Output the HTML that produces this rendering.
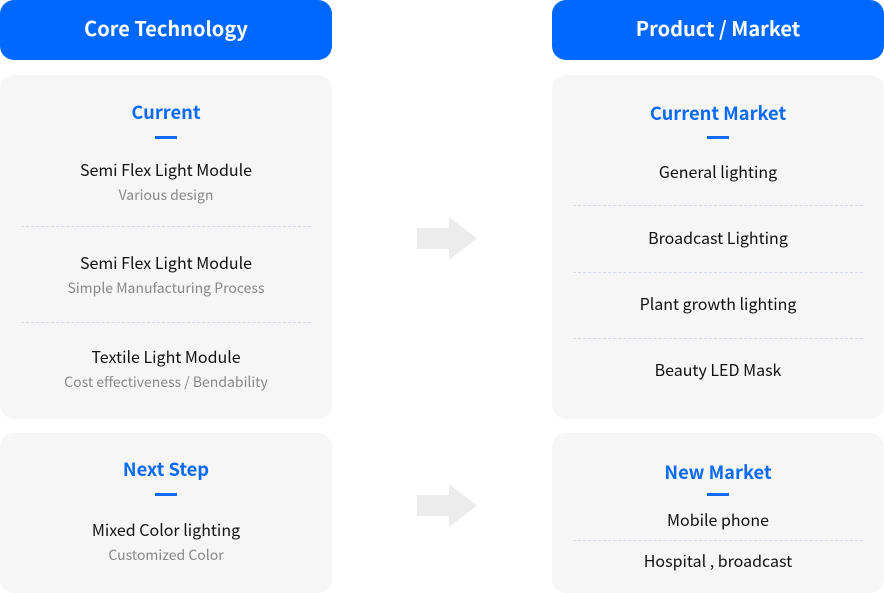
<!DOCTYPE html>
<html><head><meta charset="utf-8"><style>
*{margin:0;padding:0;box-sizing:border-box}
body{width:884px;height:593px;background:#fff;position:relative;overflow:hidden;font-family:"Noto Sans CJK KR","Liberation Sans",sans-serif}
.hd{position:absolute;top:0;height:60px;width:332px;background:#0068ff;border-radius:14px;color:#fff;font-weight:bold;font-size:20px;text-align:center;line-height:56px}
.bx{position:absolute;width:332px;background:#f6f6f6;border-radius:14px}
.t{position:absolute;left:0;width:332px;text-align:center;line-height:1;white-space:nowrap}
.ti{color:#0a6af6;font-weight:bold;font-size:18.3px}
.it{color:#111;font-size:16px}
.sb{color:#888;font-size:14px}
.bar{position:absolute;left:155px;width:22px;height:3px;background:#0a6af6}
.dv{position:absolute;left:21px;width:290px;border-top:1px dashed #d3dbe8}
.ar{position:absolute}
</style></head><body>
<div class="hd" style="left:0">Core Technology</div>
<div class="hd" style="left:552px">Product / Market</div>

<div class="bx" style="left:0;top:75px;height:344px">
<div class="t ti" style="top:28px">Current</div>
<div class="bar" style="top:61px"></div>
<div class="t it" style="top:86px">Semi Flex Light Module</div>
<div class="t sb" style="top:113px">Various design</div>
<div class="dv" style="top:151px"></div>
<div class="t it" style="top:179px">Semi Flex Light Module</div>
<div class="t sb" style="top:206px">Simple Manufacturing Process</div>
<div class="dv" style="top:247px"></div>
<div class="t it" style="top:273px">Textile Light Module</div>
<div class="t sb" style="top:300px">Cost effectiveness / Bendability</div>
</div>

<div class="bx" style="left:0;top:433px;height:160px">
<div class="t ti" style="top:27px">Next Step</div>
<div class="bar" style="top:60px"></div>
<div class="t it" style="top:88px">Mixed Color lighting</div>
<div class="t sb" style="top:115px">Customized Color</div>
</div>

<div class="bx" style="left:552px;top:75px;height:344px">
<div class="t ti" style="top:29px">Current Market</div>
<div class="bar" style="top:61px"></div>
<div class="t it" style="top:88px">General lighting</div>
<div class="dv" style="top:130px"></div>
<div class="t it" style="top:154px">Broadcast Lighting</div>
<div class="dv" style="top:197px"></div>
<div class="t it" style="top:220px">Plant growth lighting</div>
<div class="dv" style="top:263px"></div>
<div class="t it" style="top:286px">Beauty LED Mask</div>
</div>

<div class="bx" style="left:552px;top:433px;height:160px">
<div class="t ti" style="top:30px">New Market</div>
<div class="bar" style="top:60px"></div>
<div class="t it" style="top:78px">Mobile phone</div>
<div class="dv" style="top:107px"></div>
<div class="t it" style="top:119px">Hospital , broadcast</div>
</div>

<svg class="ar" style="left:0;top:0" width="884" height="593">
<polygon points="417,228 449,228 449,217 477,238.5 449,260 449,249 417,249" fill="#ececec"/>
<polygon points="417,495 449,495 449,484 477,505.5 449,527 449,516 417,516" fill="#ececec"/>
</svg>
</body></html>
